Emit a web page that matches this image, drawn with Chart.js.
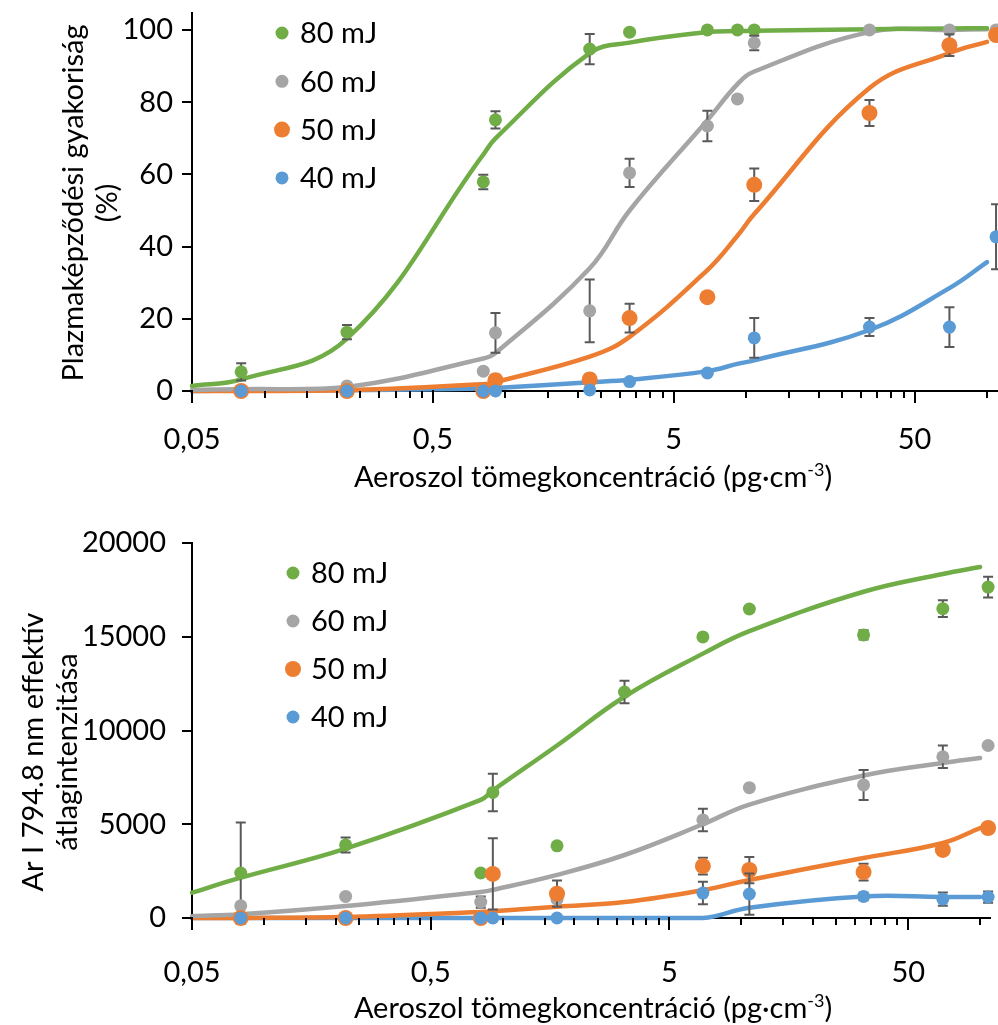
<!DOCTYPE html>
<html>
<head>
<meta charset="utf-8">
<script src="https://cdn.jsdelivr.net/npm/chart.js@4.4.1/dist/chart.umd.min.js"></script>
<style>
html, body { margin: 0; padding: 0; background: #fff; overflow: hidden; }
canvas { position: absolute; left: 0; }
#topChart { top: 0; }
#bottomChart { top: 505px; }
</style>
</head>
<body>
<canvas id="topChart" width="998" height="505"></canvas>
<canvas id="bottomChart" width="998" height="520"></canvas>
<script>
var seriesLabels = ["80 mJ", "60 mJ", "50 mJ", "40 mJ"];
var seriesColors = ["#70AD47", "#A5A5A5", "#ED7D31", "#5B9BD5"];
var markerSizes = [6.5, 6.5, 8, 6.5];

var xMajorTicks = [0.05, 0.5, 5, 50];
var xTickLabels = ["0,05", "0,5", "5", "50"];
var xMinorTicks = [0.1, 0.15, 0.2, 0.25, 0.3, 0.35, 0.4, 0.45,
                   1, 1.5, 2, 2.5, 3, 3.5, 4, 4.5,
                   10, 15, 20, 25, 30, 35, 40, 45, 100];

// top panel: plasma formation frequency (%)
var freqTicks = [0, 20, 40, 60, 80, 100];
var conc = [0.08, 0.22, 0.81, 0.91, 2.24, 3.28, 6.9, 9.2, 10.8, 32.5, 69.8, 109];
var freq80 = [5.3, 16.3, 57.9, 75.1, 94.7, 99.4, 100, 100, 100, null, null, null];
var freqErr80 = [2.4, 2.0, 2.0, 2.4, 4.2, 0, 0, 0, 0, 0, 0, 0];
var freq60 = [0, 1.4, 5.5, 16.1, 22.2, 60.4, 73.4, 80.9, 96.4, 100, 100, 100];
var freqErr60 = [0, 0.5, 0.5, 5.5, 8.7, 3.9, 4.2, 0.8, 2.0, 0, 0, 0];
var freq50 = [0, 0, 0, 3.0, 3.2, 20.2, 26.0, null, 57.1, 77.0, 95.8, 98.6];
var freqErr50 = [0, 0, 0, 1.5, 1.5, 4.0, 1.0, 0, 4.5, 3.6, 3.0, 0];
var freq40 = [0, 0, 0, 0, 0.3, 2.6, 5.0, null, 14.7, 17.7, 17.7, 42.7];
var freqErr40 = [0, 0, 0, 0, 0, 0.5, 0.5, 0, 5.5, 2.5, 5.5, 9.0];

var fitConc = [0.05, 0.08, 0.22, 0.81, 0.91, 2.24, 3.28, 6.9, 9.2, 10.8, 32.5, 69.8, 100];
var fitFreq80 = [1.4, 3.2, 14.5, 65.5, 70, 93.6, 96.5, 99.4, 99.7, 99.8, 100.2, 100.4, 100.5];
var fitFreq60 = [0.3, 0.5, 1.1, 9.0, 10.5, 34, 50, 75, 85, 88.5, 99.4, 100, 100.2];
var fitFreq50 = [0, 0, 0.2, 1.9, 2.5, 9.5, 15, 33.5, 43, 49, 83.9, 93.6, 96.7];
var fitFreq40 = [0, 0.1, 0.2, 0.7, 0.8, 2.4, 3.1, 5.5, 7.5, 8.5, 16.9, 28.5, 35.7];

// bottom panel: Ar I 794.8 nm mean effective intensity
var intTicks = [0, 5000, 10000, 15000, 20000];
var concB = [0.08, 0.22, 0.81, 0.91, 1.69, 3.24, 6.9, 10.8, 32.5, 69.8, 108];
var int80 = [2400, 3900, 2400, 6700, 3850, 12050, 14990, 16480, 15100, 16500, 17650];
var intErr80 = [2700, 400, 0, 1000, 0, 600, 150, 150, 250, 450, 550];
var int60 = [650, 1150, 850, null, 1000, null, 5230, 6950, 7100, 8600, 9200];
var intErr60 = [0, 0, 300, 0, 0, 0, 600, 0, 800, 600, 0];
var int50 = [0, 0, 0, 2350, 1300, null, 2770, 2560, 2450, 3630, 4800];
var intErr50 = [0, 0, 0, 1900, 700, 0, 450, 700, 450, 0, 0];
var int40 = [0, 0, 0, 0, 0, null, 1330, 1280, 1150, 1010, 1120];
var intErr40 = [0, 0, 0, 0, 0, 0, 600, 1100, 200, 350, 300];

var fitConcB = [0.05, 0.08, 0.22, 0.81, 0.91, 1.69, 3.24, 6.9, 10.8, 32.5, 69.8, 100];
var fitInt80 = [1350, 2150, 3700, 6300, 6800, 9200, 11800, 14100, 15300, 17400, 18350, 18720];
var fitInt60 = [100, 200, 640, 1390, 1500, 2300, 3360, 5000, 6050, 7600, 8270, 8530];
var fitInt50 = [0, 0, 50, 320, 360, 600, 850, 1490, 2030, 3200, 4000, 4800];
var fitInt40 = [0, 0, 0, 0, 0, 0, 0, 0, 550, 1150, 1120, 1120];

var FONT = "Lato";
var FONT_SIZE = 29;

function points(xs, ys, es) {
  var out = [];
  for (var i = 0; i < xs.length; i++) {
    if (ys[i] === null) continue;
    out.push({ x: xs[i], y: ys[i], e: es ? es[i] : 0 });
  }
  return out;
}

// error bars under the markers, ticks, titles and legend on top
var decor = {
  id: "decor",
  beforeDatasetDraw: function (chart, args) {
    var ds = chart.data.datasets[args.index];
    if (!ds.errorBars) return;
    var ctx = chart.ctx, ys = chart.scales.y, meta = args.meta;
    ctx.save();
    ctx.strokeStyle = "#595959";
    ctx.lineWidth = 2;
    meta.data.forEach(function (pt, i) {
      var d = ds.data[i];
      if (!d.e) return;
      var y1 = ys.getPixelForValue(d.y + d.e), y2 = ys.getPixelForValue(d.y - d.e);
      ctx.beginPath();
      ctx.moveTo(pt.x, y1); ctx.lineTo(pt.x, y2);
      ctx.moveTo(pt.x - 5, y1); ctx.lineTo(pt.x + 5, y1);
      ctx.moveTo(pt.x - 5, y2); ctx.lineTo(pt.x + 5, y2);
      ctx.stroke();
    });
    ctx.restore();
  },
  afterDraw: function (chart, args, o) {
    var ctx = chart.ctx, xs = chart.scales.x, ys = chart.scales.y, a = chart.chartArea;
    ctx.save();
    ctx.strokeStyle = "#000";
    ctx.lineWidth = 2;
    ctx.beginPath();
    o.yTicks.forEach(function (v) {
      var p = Math.round(ys.getPixelForValue(v));
      ctx.moveTo(a.left - 10, p); ctx.lineTo(a.left, p);
    });
    xMajorTicks.forEach(function (v) {
      var p = Math.round(xs.getPixelForValue(v));
      ctx.moveTo(p, a.bottom - 1); ctx.lineTo(p, a.bottom + 12);
    });
    xMinorTicks.forEach(function (v) {
      var p = Math.round(xs.getPixelForValue(v));
      if (p > a.right + 1) return;
      ctx.moveTo(p, a.bottom); ctx.lineTo(p, a.bottom + 7);
    });
    ctx.stroke();

    ctx.fillStyle = "#000";
    ctx.font = FONT_SIZE + "px " + FONT;
    // y title (two lines, rotated)
    ctx.save();
    ctx.textAlign = "center";
    ctx.textBaseline = "alphabetic";
    o.yTitle.forEach(function (line, i) {
      ctx.save();
      ctx.translate(o.yTitleX[i], o.yTitleY);
      ctx.rotate(-Math.PI / 2);
      ctx.fillText(line, 0, 0);
      ctx.restore();
    });
    ctx.restore();

    // x title with superscript
    var main = "Aeroszol tömegkoncentráció (pg·cm", sup = "-3", tail = ")";
    var supFont = Math.round(FONT_SIZE * 0.62) + "px " + FONT;
    var w1 = ctx.measureText(main).width, w3 = ctx.measureText(tail).width;
    ctx.font = supFont;
    var w2 = ctx.measureText(sup).width;
    var x0 = o.xTitleX - (w1 + w2 + w3) / 2;
    ctx.textAlign = "left";
    ctx.textBaseline = "alphabetic";
    ctx.font = FONT_SIZE + "px " + FONT;
    ctx.fillText(main, x0, o.xTitleY);
    ctx.font = supFont;
    ctx.fillText(sup, x0 + w1, o.xTitleY - 11);
    ctx.font = FONT_SIZE + "px " + FONT;
    ctx.fillText(tail, x0 + w1 + w2, o.xTitleY);

    // legend
    ctx.textBaseline = "middle";
    seriesLabels.forEach(function (lab, i) {
      var y = o.legendY + i * o.legendStep;
      ctx.fillStyle = seriesColors[i];
      ctx.beginPath();
      ctx.arc(o.legendX, y, markerSizes[i], 0, Math.PI * 2);
      ctx.fill();
      ctx.fillStyle = "#000";
      ctx.fillText(lab, o.legendX + 18, y + 1);
    });
    ctx.restore();
  }
};

function makeChart(id, opt) {
  var datasets = [];
  // 40 mJ last in the source, so it sits on top
  for (var k = 3; k >= 0; k--) {
    datasets.push({
      label: seriesLabels[k],
      data: points(opt.conc, opt.values[k], opt.errors[k]),
      errorBars: true,
      backgroundColor: seriesColors[k],
      borderWidth: 0,
      pointRadius: markerSizes[k],
      pointHoverRadius: markerSizes[k],
      showLine: false,
      clip: false,
      order: 0
    });
  }
  for (var j = 0; j < 4; j++) {
    datasets.push({
      label: seriesLabels[j] + " fit",
      data: points(opt.fitConc, opt.fits[j]),
      borderColor: seriesColors[j],
      borderWidth: 4.5,
      borderCapStyle: "round",
      pointRadius: 0,
      showLine: true,
      tension: 0.4,
      clip: false,
      order: 1
    });
  }
  var H = document.getElementById(id).height;
  return new Chart(document.getElementById(id), {
    type: "scatter",
    data: { datasets: datasets },
    plugins: [decor],
    options: {
      responsive: false,
      animation: false,
      events: [],
      layout: { autoPadding: false, padding: { top: opt.top, right: opt.right, left: 0, bottom: 0 } },
      plugins: {
        legend: { display: false },
        tooltip: { enabled: false },
        decor: opt.decor
      },
      scales: {
        x: {
          type: "logarithmic",
          min: 0.05,
          max: opt.xMax,
          afterBuildTicks: function (s) { s.ticks = xMajorTicks.map(function (v) { return { value: v }; }); },
          afterFit: function (s) { s.height = H - opt.bottom; s.paddingLeft = 0; s.paddingRight = 0; },
          grid: { display: false, drawTicks: false },
          border: { display: true, color: "#000", width: 2 },
          ticks: {
            autoSkip: false, maxRotation: 0, padding: opt.xPad, color: "#000",
            font: { family: FONT, size: FONT_SIZE },
            callback: function (v, i) { return xTickLabels[i]; }
          }
        },
        y: {
          min: 0,
          max: opt.yMax,
          afterBuildTicks: function (s) { s.ticks = opt.yTicks.map(function (v) { return { value: v }; }); },
          afterFit: function (s) { s.width = 192; s.paddingTop = 0; s.paddingBottom = 0; },
          grid: { display: false, drawTicks: false },
          border: { display: true, color: "#000", width: 2 },
          ticks: {
            padding: opt.yPad, color: "#000",
            font: { family: FONT, size: FONT_SIZE },
            callback: function (v) { return String(v); }
          }
        }
      }
    }
  });
}

makeChart("topChart", {
  conc: conc,
  values: [freq80, freq60, freq50, freq40],
  errors: [freqErr80, freqErr60, freqErr50, freqErr40],
  fitConc: fitConc,
  fits: [fitFreq80, fitFreq60, fitFreq50, fitFreq40],
  yMax: 104.7, yTicks: freqTicks, xMax: 110,
  top: 13, right: 1, bottom: 391,
  xPad: 31, yPad: 19,
  decor: {
    yTicks: freqTicks,
    yTitle: ["Plazmaképződési gyakoriság", "(%)"], yTitleX: [83, 117], yTitleY: 203,
    xTitleX: 593, xTitleY: 487,
    legendX: 282, legendY: 33, legendStep: 48.3
  }
});

makeChart("bottomChart", {
  conc: concB,
  values: [int80, int60, int50, int40],
  errors: [intErr80, intErr60, intErr50, intErr40],
  fitConc: fitConcB,
  fits: [fitInt80, fitInt60, fitInt50, fitInt40],
  yMax: 20000, yTicks: intTicks, xMax: 110,
  top: 38, right: 8, bottom: 413,
  xPad: 37, yPad: 26,
  decor: {
    yTicks: intTicks,
    yTitle: ["Ar I 794.8 nm effektív", "átlagintenzitása"], yTitleX: [43, 77], yTitleY: 247,
    xTitleX: 593, xTitleY: 513,
    legendX: 293, legendY: 68, legendStep: 48
  }
});
</script>
</body>
</html>
